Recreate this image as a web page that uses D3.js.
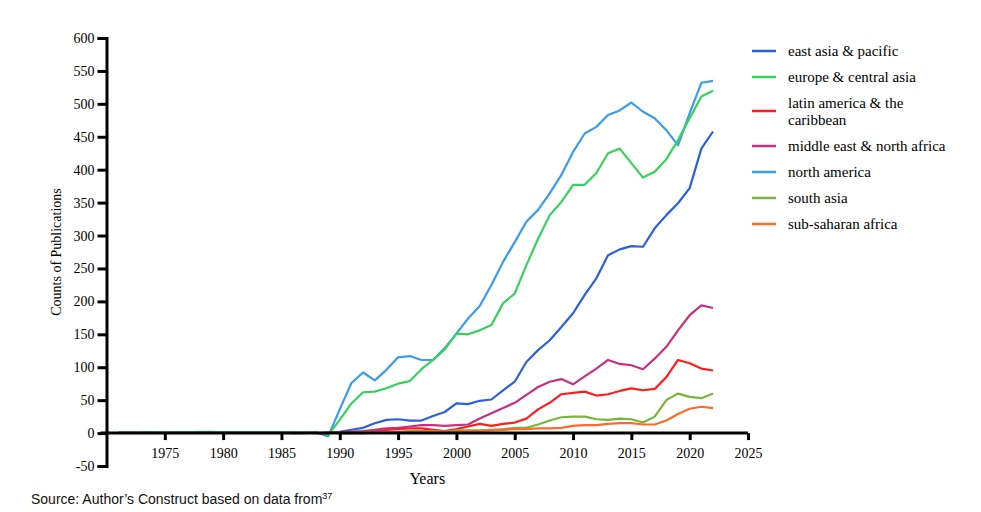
<!DOCTYPE html>
<html>
<head>
<meta charset="utf-8">
<script src="https://cdn.jsdelivr.net/npm/d3@7"></script>
<style>
  body { margin: 0; background: #fff; }
  #chart { width: 981px; height: 512px; }
</style>
</head>
<body>
<div id="chart"></div>
<script>
// 数据
const regions = [
  'east asia & pacific',
  'europe & central asia',
  'latin america & the caribbean',
  'middle east & north africa',
  'north america',
  'south asia',
  'sub-saharan africa'
];
const colors = ['#2a5fdf', '#35d35a', '#ff1e1e', '#c8307f', '#3a9bef', '#78b53a', '#ff6a2c'];

// first year of each series
const startYears = [1990, 1973, 1988, 1988, 1971, 1990, 1990];

const eastAsia = [2, 5, 8, 15, 20, 21, 19, 19, 26, 32, 45, 44, 49, 51, 65, 78, 108, 126, 141, 161,
  182, 210, 235, 270, 279, 284, 283, 311, 331, 349, 372, 432, 458];
const europe = [1, 1, 1, 1, 1, 1, 1, 1, 1, 1, 1, 1, 1, 1, 1, 1, -3, 20, 45, 62, 63, 68, 75, 79, 97,
  111, 127, 151, 150, 156, 164, 197, 212, 255, 295, 331, 351, 377, 377, 395, 425, 432, 410, 388,
  397, 416, 445, 478, 511, 520];
const latinAmerica = [0, 1, 1, 2, 2, 3, 5, 6, 7, 7, 5, 3, 6, 10, 14, 11, 14, 16, 22, 36, 46, 59,
  61, 63, 57, 59, 64, 68, 65, 67, 85, 111, 106, 98, 95];
const middleEast = [0, 0, 1, 2, 3, 5, 7, 8, 10, 12, 12, 11, 12, 13, 22, 30, 38, 46, 58, 70, 78, 82,
  74, 86, 98, 111, 105, 103, 97, 113, 131, 156, 179, 194, 190];
const northAmerica = [1, 1, 1, 1, 0, 1, 1, 2, 2, 1, 1, 1, 1, 1, 1, 0, 0, 1, -5, 36, 76, 92, 80, 96,
  115, 117, 111, 111, 129, 151, 174, 193, 225, 260, 290, 321, 339, 364, 392, 427, 455, 465, 483,
  490, 502, 488, 478, 460, 437, 486, 532, 535];
const southAsia = [0, 0, 1, 1, 1, 2, 3, 3, 3, 2, 4, 4, 4, 5, 6, 8, 8, 13, 19, 24, 25, 25, 21, 20,
  22, 21, 16, 25, 50, 60, 55, 53, 60];
const subSaharan = [0, 0, 0, 1, 1, 1, 2, 2, 2, 2, 2, 3, 3, 4, 5, 6, 6, 7, 7, 8, 11, 12, 12, 14, 15,
  15, 13, 13, 19, 29, 37, 40, 38];

const seriesValues = [eastAsia, europe, latinAmerica, middleEast, northAmerica, southAsia, subSaharan];

const yTicks = [-50, 0, 50, 100, 150, 200, 250, 300, 350, 400, 450, 500, 550, 600];
const xTicks = [1975, 1980, 1985, 1990, 1995, 2000, 2005, 2010, 2015, 2020, 2025];

class LineChart {
  constructor(id) {
    this.id = id;
    this.width = 981;
    this.height = 512;
    this.serif = '"Liberation Serif", "Times New Roman", serif';
  }

  init() {
    this.svg = d3.select(`#${this.id}`).append('svg')
      .attr('width', this.width)
      .attr('height', this.height);
    this.x = d3.scaleLinear().domain([1970, 2025]).range([106.5, 748]);
    this.y = d3.scaleLinear().domain([-50, 600]).range([466, 38]);
    return this;
  }

  render() {
    this.renderLines();
    this.renderAxes();
    this.renderLegend();
    this.renderTexts();
    return this;
  }

  renderLines() {
    const data = regions.map((name, i) => ({
      name,
      color: colors[i],
      values: seriesValues[i].map((v, j) => ({ year: startYears[i] + j, value: v }))
    }));
    // north america under europe
    const order = [4, 0, 1, 2, 3, 5, 6];
    const line = d3.line()
      .x(d => this.x(d.year))
      .y(d => this.y(d.value));

    this.svg.append('g')
      .selectAll('path')
      .data(order.map(i => data[i]))
      .join('path')
      .attr('d', d => line(d.values))
      .attr('fill', 'none')
      .attr('stroke', d => d.color)
      .attr('stroke-width', 2.2)
      .attr('stroke-linejoin', 'round');
  }

  renderAxes() {
    const yAxis = this.svg.append('g')
      .attr('transform', `translate(${this.x(1970)},0)`)
      .call(d3.axisLeft(this.y).tickValues(yTicks).tickSize(9).tickPadding(3).tickFormat(d => `${d}`));

    const xAxis = this.svg.append('g')
      .attr('transform', `translate(0,${this.y(0)})`)
      .call(d3.axisBottom(this.x).tickValues(xTicks).tickSize(7).tickPadding(8).tickFormat(d => `${d}`));

    [yAxis, xAxis].forEach(g => {
      g.attr('font-family', this.serif).attr('font-size', 14);
      g.select('.domain').attr('stroke', '#000').attr('stroke-width', 3);
      g.selectAll('.tick line').attr('stroke', '#000').attr('stroke-width', 3);
      g.selectAll('.tick text').attr('fill', '#000');
    });
    xAxis.select('.domain').attr('d', `M${this.x(1970) - 6},0H${this.x(2025)}`);
  }

  renderLegend() {
    const rows = [51, 77, 111, 146, 172, 198, 224];
    const g = this.svg.append('g');
    regions.forEach((name, i) => {
      g.append('line')
        .attr('x1', 752).attr('x2', 776)
        .attr('y1', rows[i]).attr('y2', rows[i])
        .attr('stroke', colors[i])
        .attr('stroke-width', 2.5);
      const t = g.append('text')
        .attr('x', 788)
        .attr('fill', '#000')
        .style('font-family', this.serif)
        .style('font-size', '15px');
      if (i === 2) {
        t.append('tspan').attr('x', 788).attr('y', rows[i] - 3.5).text('latin america & the');
        t.append('tspan').attr('x', 788).attr('y', rows[i] + 13.5).text('caribbean');
      } else {
        t.attr('y', rows[i] + 5).text(name);
      }
    });
  }

  renderTexts() {
    this.svg.append('text')
      .attr('transform', `translate(61,${this.y(275)}) rotate(-90)`)
      .attr('text-anchor', 'middle')
      .style('font-family', this.serif)
      .style('font-size', '14px')
      .text('Counts of Publications');

    this.svg.append('text')
      .attr('x', (this.x(1970) + this.x(2025)) / 2)
      .attr('y', 484)
      .attr('text-anchor', 'middle')
      .style('font-family', this.serif)
      .style('font-size', '16px')
      .text('Years');

    const src = this.svg.append('text')
      .attr('x', 31)
      .attr('y', 504)
      .style('font-family', '"Liberation Sans", Arial, sans-serif')
      .style('font-size', '14px')
      .attr('fill', '#111');
    src.append('tspan').text('Source: Author\u2019s Construct based on data from');
    src.append('tspan').attr('dy', -5).style('font-size', '9px').text('37');
  }
}

new LineChart('chart').init().render();
</script>
</body>
</html>
